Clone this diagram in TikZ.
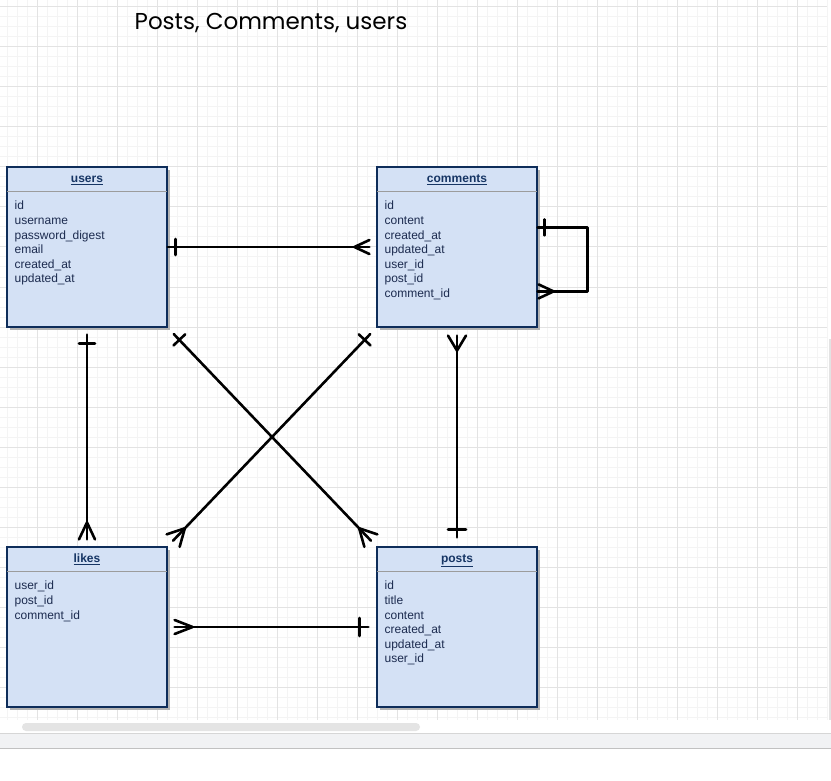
\documentclass[tikz,border=0pt]{standalone}
\usepackage{fontspec}
\setmainfont{Liberation Sans}
\newfontfamily\titlefont{Poppins}
\usetikzlibrary{calc,shadows}

\definecolor{gridminor}{HTML}{F4F4F4}
\definecolor{gridmajor}{HTML}{E3E3E3}
\definecolor{tablefill}{HTML}{D4E1F5}
\definecolor{tableline}{HTML}{0E2D5A}
\definecolor{tabletext}{HTML}{1C2B4F}
\definecolor{headtext}{HTML}{163564}
\definecolor{shadowgray}{HTML}{B3B3B3}
\definecolor{sepgray}{HTML}{9C9C9C}
\definecolor{scrollgray}{HTML}{E4E4E4}
\definecolor{bandgray}{HTML}{F1F2F4}
\definecolor{bandline}{HTML}{D6D6D6}

\tikzset{
  tablebox/.style={draw=tableline, line width=1.2pt, fill=tablefill,
    minimum width=160pt, minimum height=160pt, inner sep=0pt,
    general shadow={fill=shadowgray, shadow xshift=3pt, shadow yshift=-3pt}},
  attr/.style={anchor=base west, inner sep=0pt, text=tabletext,
    font=\fontsize{12}{14}\selectfont},
  head/.style={anchor=base, inner sep=0pt, text=headtext,
    font=\fontsize{12}{14}\selectfont\bfseries},
  sepline/.style={draw=sepgray, line width=1pt},
  conn/.style={line width=2.6pt, black, line cap=round, line join=round},
  titletext/.style={inner sep=0pt, font=\titlefont\fontsize{23}{26}\selectfont},
}

% "one" bar across a connector: end point, far point, distance, half length
\newcommand\onemark[4]{%
  \path ($(#1)!#3!(#2)$) coordinate (mk);
  \draw[conn] ($(mk)!#4!90:(#2)$) -- ($(mk)!#4!-90:(#2)$);}
% crow's foot: end point, far point, prong distance, apex distance, half spread
\newcommand\manymark[5]{%
  \path ($(#1)!#3!(#2)$) coordinate (mkb) ($(#1)!#4!(#2)$) coordinate (mka);
  \draw[conn] ($(mkb)!#5!90:(#2)$) -- (mka) -- ($(mkb)!#5!-90:(#2)$);}

% a table with a title row and one attribute per line
\newcommand\erttable[4]{% name, centre, title, attributes
  \node[tablebox] (#1) at #2 {};
  \draw[sepline] ($(#1.north west)+(0.6,25)$) -- ($(#1.north east)+(-0.6,25)$);
  \node[head] (#1-title) at ($(#1.north)+(0,16)$) {\underline{#3}};
  \foreach \t [count=\i] in {#4}
    \node[attr] (#1-a\i) at ($(#1.north west)+(8,{43.5+14.6*(\i-1)})$) {\t};}

\begin{document}
\begin{tikzpicture}[x=1pt,y=-1pt]
\useasboundingbox (0,0) rectangle (831,781);
\fill[white] (0,0) rectangle (831,781);

% canvas grid
\foreach \i in {0,...,82}
  \draw[gridminor, line width=1pt] ({7+10*\i},0) -- ({7+10*\i},720);
\foreach \i in {0,...,71}
  \draw[gridminor, line width=1pt] (0,{7+10*\i}) -- (827,{7+10*\i});
\foreach \i in {0,...,19}
  \draw[gridmajor, line width=1pt] ({37+40*\i},0) -- ({37+40*\i},720);
\foreach \i in {0,...,17}
  \draw[gridmajor, line width=1pt] (0,{7+40*\i}) -- (827,{7+40*\i});
\draw[gridmajor, line width=1.5pt] (830,339) -- (830,720);

% scroll bar and status band
\fill[scrollgray, rounded corners=4pt] (22,723) rectangle (420,731);
\fill[bandgray] (0,733) rectangle (831,748);
\draw[bandline, line width=1pt] (0,733) -- (831,733);
\draw[bandline!90!black, line width=1pt] (0,748) -- (831,748);

% title
\node[titletext] (title) at (271,23) {Posts, Comments, users};

% tables
\erttable{users}{(87,247)}{users}{id,username,password\_digest,email,created\_at,updated\_at}
\erttable{comments}{(457,247)}{comments}{id,content,created\_at,updated\_at,user\_id,post\_id,comment\_id}
\erttable{likes}{(87,627)}{likes}{user\_id,post\_id,comment\_id}
\erttable{posts}{(457,627)}{posts}{id,title,content,created\_at,updated\_at,user\_id}

% users -- comments
\draw[conn] (users.east) -- ($(comments.west)!7pt!(users.east)$);
\onemark{users.east}{comments.west}{8pt}{8pt}
\manymark{comments.west}{users.east}{7pt}{22pt}{7pt}

% users -- likes
\draw[conn] ($(users.south)!7pt!(likes.north)$) -- ($(likes.north)!7pt!(users.south)$);
\onemark{users.south}{likes.north}{16pt}{8pt}
\manymark{likes.north}{users.south}{7pt}{24pt}{8pt}

% comments -- posts
\draw[conn] ($(comments.south)!8pt!(posts.north)$) -- ($(posts.north)!9pt!(comments.south)$);
\manymark{comments.south}{posts.north}{8pt}{23pt}{9pt}
\onemark{posts.north}{comments.south}{17pt}{9pt}

% likes -- posts
\draw[conn] ($(likes.east)!7pt!(posts.west)$) -- ($(posts.west)!8pt!(likes.east)$);
\manymark{likes.east}{posts.west}{7pt}{25pt}{7pt}
\onemark{posts.west}{likes.east}{17pt}{9pt}

% users -- posts
\draw[conn] ($(users.south east)!9pt!(posts.north west)$) -- ($(posts.north west)!8pt!(users.south east)$);
\onemark{users.south east}{posts.north west}{17pt}{8pt}
\manymark{posts.north west}{users.south east}{8pt}{25pt}{9pt}

% comments -- likes
\draw[conn] ($(comments.south west)!9pt!(likes.north east)$) -- ($(likes.north east)!8pt!(comments.south west)$);
\onemark{comments.south west}{likes.north east}{17pt}{8pt}
\manymark{likes.north east}{comments.south west}{8pt}{25pt}{9pt}

% comments -- comments (self reference)
\coordinate (loopout) at ($(comments.north east)+(0,61)$);
\coordinate (loopin) at ($(comments.north east)+(0,125)$);
\coordinate (loopc1) at ($(loopout)+(50,0)$);
\coordinate (loopc2) at ($(loopin)+(50,0)$);
\draw[conn] (loopout) -- (loopc1) -- (loopc2) -- (loopin);
\onemark{loopout}{loopc1}{7pt}{8pt}
\manymark{loopin}{loopc2}{1pt}{16pt}{7pt}
\end{tikzpicture}
\end{document}
